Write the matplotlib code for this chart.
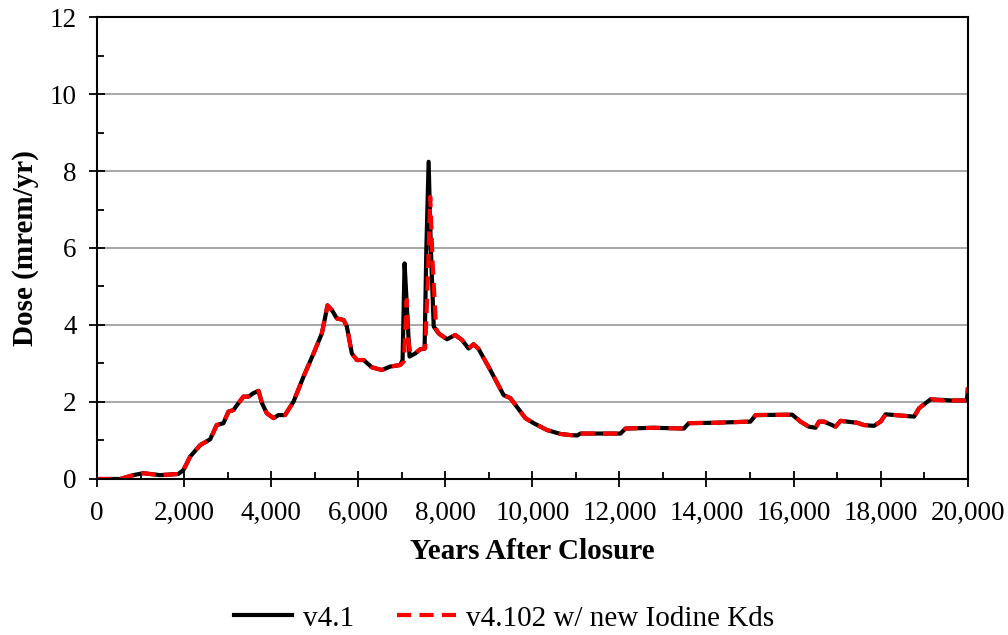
import matplotlib.pyplot as plt
from matplotlib.ticker import MultipleLocator, FuncFormatter

plt.rcParams["font.family"] = ["Liberation Serif", "DejaVu Serif"]

# v4.1 (black solid)
years_v41 = [0, 530, 835, 1065, 1450, 1870, 1985, 2140, 2370, 2600, 2750, 2905, 3020,
             3135, 3250, 3365, 3480, 3595, 3710, 3790, 3900, 4055, 4170, 4320, 4515,
             4745, 4975, 5165, 5245, 5295, 5395, 5510, 5665, 5740, 5855, 5970, 6125,
             6315, 6545, 6735, 6965, 7020, 7066, 7110, 7180, 7310, 7425, 7525, 7565,
             7618, 7670, 7735, 7850, 8040, 8230, 8385, 8535, 8650, 8765, 9035, 9340,
             9495, 9840, 10030, 10340, 10645, 10875, 11030, 11105, 12025, 12140, 12790,
             13480, 13595, 14170, 15010, 15130, 15970, 16160, 16350, 16505, 16585,
             16700, 16965, 17080, 17465, 17620, 17850, 18000, 18115, 18770, 18885,
             19150, 19460, 19610, 19980, 20000]
dose_v41 = [0.0, 0.0, 0.10, 0.15, 0.10, 0.13, 0.23, 0.58, 0.88, 1.03, 1.40, 1.45, 1.75,
            1.79, 1.97, 2.14, 2.14, 2.23, 2.29, 1.97, 1.71, 1.58, 1.66, 1.66, 2.01,
            2.66, 3.26, 3.78, 4.22, 4.51, 4.39, 4.17, 4.13, 3.96, 3.26, 3.09, 3.09,
            2.90, 2.83, 2.92, 2.96, 3.09, 5.60, 4.65, 3.18, 3.26, 3.37, 3.38, 5.95,
            8.24, 5.95, 3.96, 3.78, 3.63, 3.74, 3.61, 3.39, 3.50, 3.38, 2.83, 2.18,
            2.10, 1.58, 1.45, 1.27, 1.17, 1.14, 1.13, 1.18, 1.18, 1.31, 1.33,
            1.31, 1.45, 1.46, 1.49, 1.66, 1.67, 1.49, 1.36, 1.33, 1.49,
            1.49, 1.36, 1.51, 1.46, 1.40, 1.38, 1.49, 1.68, 1.62, 1.84,
            2.07, 2.05, 2.04, 2.04, 2.25]

# v4.102 w/ new Iodine Kds (red dashed)
years_v4102 = [0, 530, 835, 1065, 1450, 1870, 1985, 2140, 2370, 2600, 2750, 2905, 3020,
               3135, 3250, 3365, 3480, 3595, 3710, 3790, 3900, 4055, 4170, 4320, 4515,
               4745, 4975, 5165, 5245, 5295, 5395, 5510, 5665, 5740, 5855, 5970, 6125,
               6315, 6545, 6735, 6965, 7050, 7115, 7150, 7200, 7310, 7425, 7540, 7600,
               7655, 7710, 7790, 7850, 8040, 8230, 8385, 8535, 8650, 8765, 9035, 9340,
               9495, 9840, 10030, 10340, 10645, 10875, 11030, 11105, 12025, 12140, 12790,
               13480, 13595, 14170, 15010, 15130, 15970, 16160, 16350, 16505, 16585,
               16700, 16965, 17080, 17465, 17620, 17850, 18000, 18115, 18770, 18885,
               19150, 19420, 19500, 19610, 19980, 20000]
dose_v4102 = [0.0, 0.0, 0.10, 0.15, 0.10, 0.13, 0.23, 0.58, 0.88, 1.03, 1.40, 1.45, 1.75,
              1.79, 1.97, 2.14, 2.14, 2.23, 2.29, 1.97, 1.71, 1.58, 1.66, 1.66, 2.01,
              2.66, 3.26, 3.78, 4.22, 4.51, 4.39, 4.17, 4.13, 3.96, 3.26, 3.09, 3.09,
              2.90, 2.83, 2.92, 2.96, 3.05, 4.65, 3.60, 3.27, 3.26, 3.37, 3.40, 5.20,
              7.33, 5.60, 3.90, 3.78, 3.63, 3.74, 3.61, 3.39, 3.50, 3.38, 2.83, 2.18,
              2.10, 1.58, 1.45, 1.27, 1.17, 1.14, 1.13, 1.18, 1.18, 1.31, 1.33,
              1.31, 1.45, 1.46, 1.49, 1.66, 1.67, 1.49, 1.36, 1.33, 1.49,
              1.49, 1.36, 1.51, 1.46, 1.40, 1.38, 1.49, 1.68, 1.62, 1.84,
              2.07, 2.04, 2.10, 2.04, 2.04, 2.38]

fig = plt.figure(figsize=(10.08, 6.35), dpi=100)
ax = fig.add_axes([0.0962, 0.2457, 0.8638, 0.7275])

ax.plot(years_v41, dose_v41, color="black", linewidth=3, label="v4.1")
ax.plot(years_v4102, dose_v4102, color="#ff0000", linewidth=3,
        dashes=(3.4, 2.0), label="v4.102 w/ new Iodine Kds")

ax.set_xlim(0, 20000)
ax.set_ylim(0, 12)
ax.xaxis.set_major_locator(MultipleLocator(2000))
ax.xaxis.set_minor_locator(MultipleLocator(1000))
ax.yaxis.set_major_locator(MultipleLocator(2))
ax.yaxis.set_minor_locator(MultipleLocator(1))
ax.xaxis.set_major_formatter(FuncFormatter(lambda v, p: f"{int(v):,}"))

ax.tick_params(which="major", direction="inout", length=11, width=1.3,
               labelsize=19.5)
ax.tick_params(which="minor", direction="in", length=5, width=1.3)
ax.tick_params(axis="x", which="major", pad=10)
ax.tick_params(axis="y", which="major", pad=9)
ax.grid(True, axis="y", which="major", color="#a0a0a0", linewidth=1.3)
ax.set_axisbelow(True)
for s in ax.spines.values():
    s.set_linewidth(1.5)

ax.set_xlabel("Years After Closure", fontsize=21, fontweight="bold", labelpad=9)
ax.set_ylabel("Dose (mrem/yr)", fontsize=21, fontweight="bold", labelpad=8)

fig.legend(loc="lower center", ncol=2, frameon=False, fontsize=21,
           bbox_to_anchor=(0.5, -0.036), handlelength=2.0, columnspacing=1.5,
           handletextpad=0.35)

fig.savefig("out.png", dpi=100)
